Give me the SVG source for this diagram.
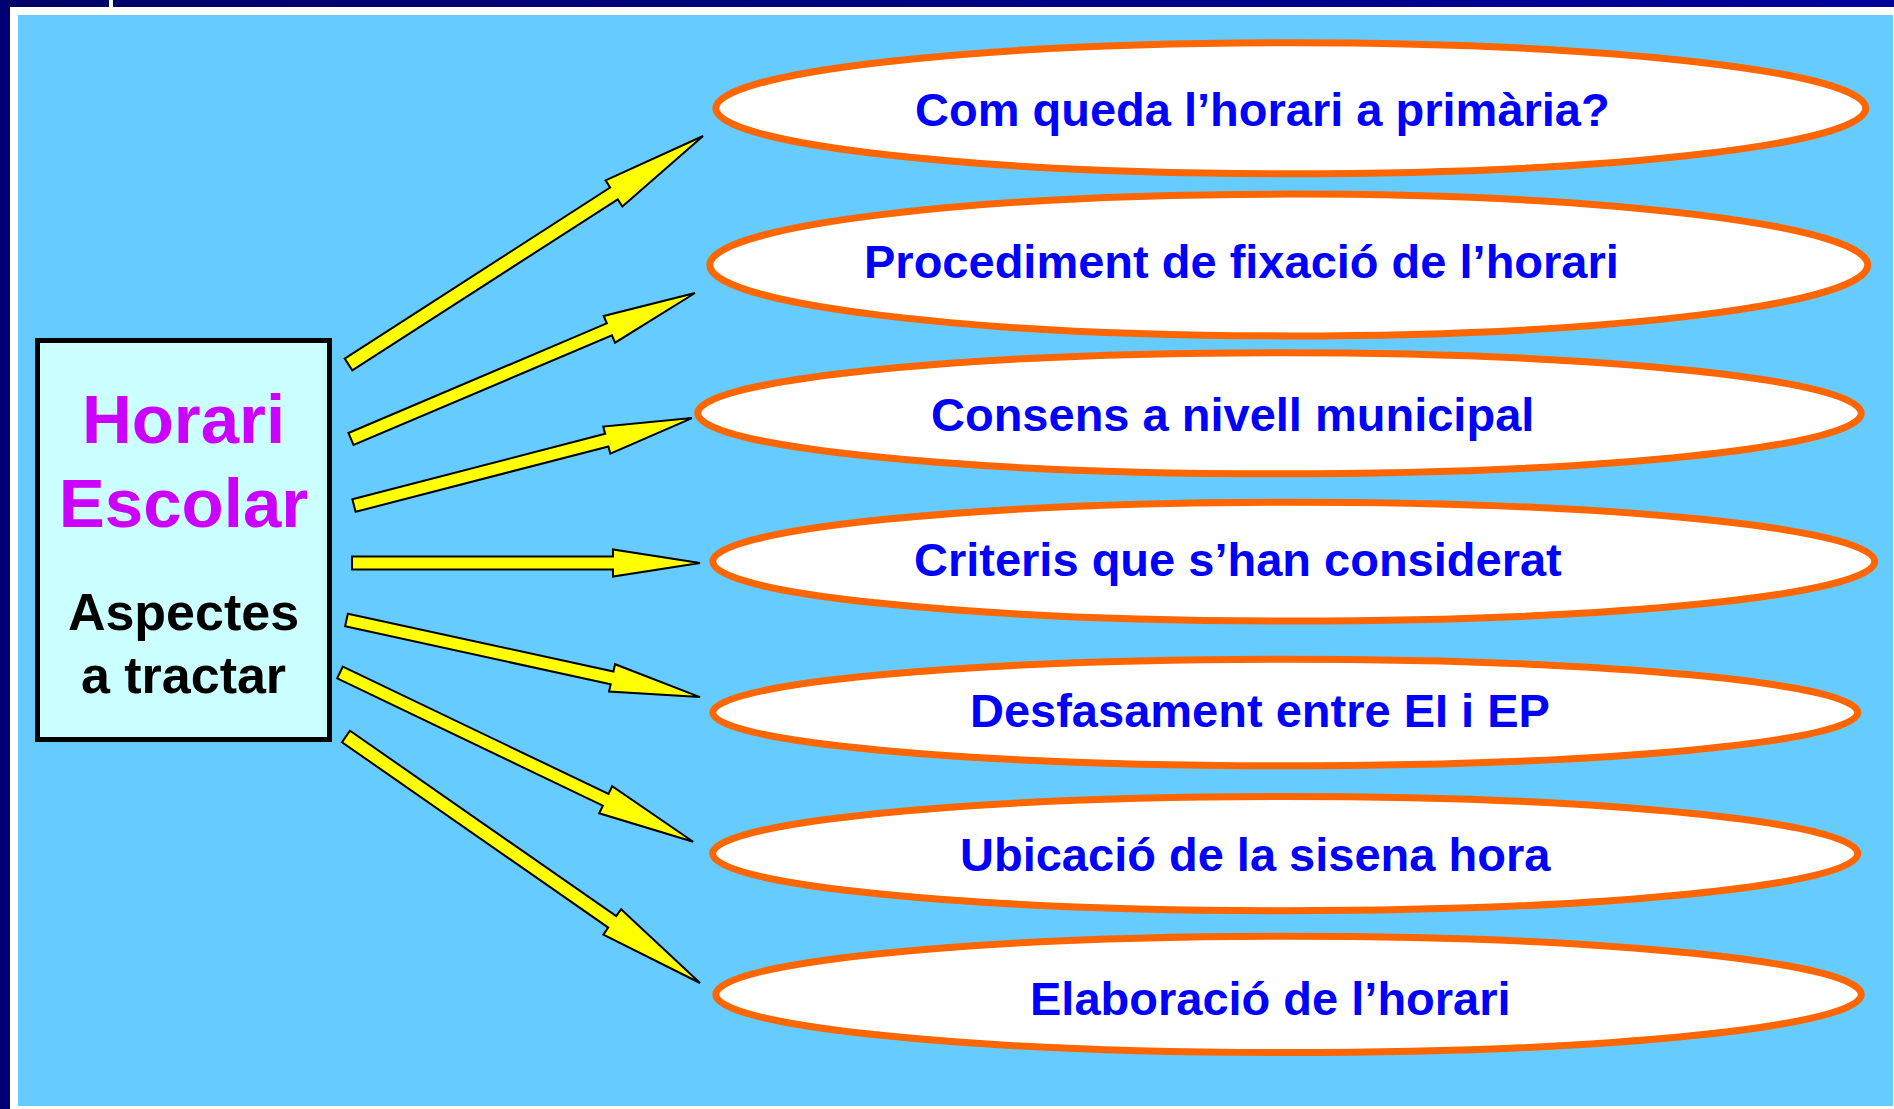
<svg xmlns="http://www.w3.org/2000/svg" width="1894" height="1109" viewBox="0 0 1894 1109">
<defs>
<linearGradient id="navy" x1="0" y1="0" x2="1" y2="0">
<stop offset="0" stop-color="#000066"/>
<stop offset="1" stop-color="#00009c"/>
</linearGradient>
</defs>
<style>
.arrow{fill:#ffff00;stroke:#000000;stroke-width:2;stroke-linejoin:miter}
.oval{fill:#ffffff;stroke:#ff6600;stroke-width:7}
.lbl{font-family:"Liberation Sans",Arial,sans-serif;font-weight:bold;font-size:47px;fill:#0000ff}
.title{font-family:"Liberation Sans",Arial,sans-serif;font-weight:bold;font-size:69px;fill:#cc00ff;text-anchor:middle}
.sub{font-family:"Liberation Sans",Arial,sans-serif;font-weight:bold;font-size:52px;fill:#000000;text-anchor:middle}
</style>
<rect x="0" y="0" width="1894" height="1109" fill="#ffffff"/>
<rect x="0" y="0" width="1894" height="7" fill="url(#navy)"/>
<rect x="0" y="0" width="10" height="1109" fill="#000070"/>
<rect x="109" y="0" width="4" height="7" fill="#ffffff"/>
<rect x="18" y="15" width="1875" height="1091" fill="#66ccff"/>

<g id="connectors">
<polygon class="arrow" transform="translate(348.5,364.5) rotate(-32.8)" points="0,-7 315.8,-7 315.8,-15.5 421.8,0 315.8,15.5 315.8,7 0,7"/>
<polygon class="arrow" transform="translate(351,439) rotate(-23)" points="0,-6.5 280.7,-6.5 280.7,-14.5 373.7,0 280.7,14.5 280.7,6.5 0,6.5"/>
<polygon class="arrow" transform="translate(354,505.5) rotate(-14.5)" points="0,-6.5 261.1,-6.5 261.1,-14 349.1,0 261.1,14 261.1,6.5 0,6.5"/>
<polygon class="arrow" transform="translate(352,563) rotate(0)" points="0,-6.5 261,-6.5 261,-13.5 348,0 261,13.5 261,6.5 0,6.5"/>
<polygon class="arrow" transform="translate(346.5,620) rotate(12.3)" points="0,-6.5 271.8,-6.5 271.8,-14 361.8,0 271.8,14 271.8,6.5 0,6.5"/>
<polygon class="arrow" transform="translate(340,672.5) rotate(25.6)" points="0,-6.5 294.6,-6.5 294.6,-15 391.6,0 294.6,15 294.6,6.5 0,6.5"/>
<polygon class="arrow" transform="translate(346,736.5) rotate(34.85)" points="0,-7 324.4,-7 324.4,-15.5 431.4,0 324.4,15.5 324.4,7 0,7"/>
</g>

<g id="node-horari">
<rect x="37.5" y="340.5" width="292" height="399" fill="#ccffff" stroke="#000000" stroke-width="5"/>
<text class="title" x="183.5" y="442.7">Horari</text>
<text class="title" x="183.5" y="526.7">Escolar</text>
<text class="sub" x="183.5" y="630">Aspectes</text>
<text class="sub" x="183.5" y="693.3">a tractar</text>
</g>

<g id="node-1">
<ellipse class="oval" cx="1290.75" cy="108.25" rx="575" ry="65.5"/>
<text class="lbl" x="915" y="126">Com queda l’horari a primària?</text>
</g>
<g id="node-2">
<ellipse class="oval" cx="1288.75" cy="265" rx="579" ry="70.9"/>
<text class="lbl" x="864" y="277.5">Procediment de fixació de l’horari</text>
</g>
<g id="node-3">
<ellipse class="oval" cx="1279.5" cy="413.25" rx="581.75" ry="60.5"/>
<text class="lbl" x="931" y="431">Consens a nivell municipal</text>
</g>
<g id="node-4">
<ellipse class="oval" cx="1293.75" cy="561.6" rx="581" ry="59.4"/>
<text class="lbl" x="914" y="576">Criteris que s’han considerat</text>
</g>
<g id="node-5">
<ellipse class="oval" cx="1285.25" cy="712.5" rx="572.5" ry="53.25"/>
<text class="lbl" x="970" y="727">Desfasament entre EI i EP</text>
</g>
<g id="node-6">
<ellipse class="oval" cx="1285.2" cy="853.6" rx="572.6" ry="57.1"/>
<text class="lbl" x="960" y="871">Ubicació de la sisena hora</text>
</g>
<g id="node-7">
<ellipse class="oval" cx="1288.5" cy="994.4" rx="572.75" ry="58.2"/>
<text class="lbl" x="1030" y="1015">Elaboració de l’horari</text>
</g>
</svg>
